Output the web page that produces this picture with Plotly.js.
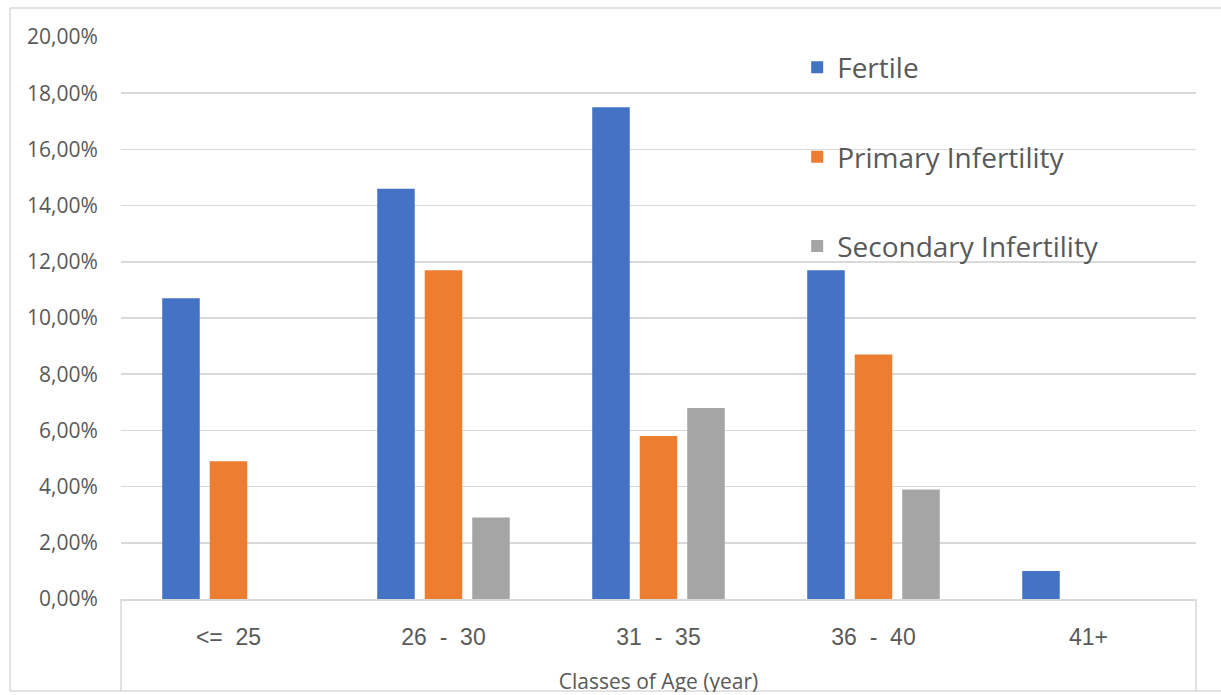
<!DOCTYPE html>
<html>
<head>
<meta charset="utf-8">
<script src="https://cdn.plot.ly/plotly-3.0.1.min.js"></script>
<style>
  html, body { margin: 0; padding: 0; background: #ffffff; }
  #wrap { width: 1221px; height: 692px; overflow: hidden; }
  #chart { width: 1221px; height: 695px; }
</style>
</head>
<body>
<div id="wrap"><div id="chart"></div></div>
<script>
// Data
const categories = ['<= 25', '26 - 30', '31 - 35', '36 - 40', '41+'];
const tickLabels = ['<=\u00a0\u00a025', '26\u00a0\u00a0-\u00a0\u00a030', '31\u00a0\u00a0-\u00a0\u00a035', '36\u00a0\u00a0-\u00a0\u00a040', '41+'];
const seriesNames = ['Fertile', 'Primary Infertility', 'Secondary Infertility'];
const fertile = [10.7, 14.6, 17.5, 11.7, 1.0];
const primaryInfertility = [4.9, 11.7, 5.8, 8.7, 0];
const secondaryInfertility = [0, 2.9, 6.8, 3.9, 0];
const yTicks = [0, 2, 4, 6, 8, 10, 12, 14, 16, 18, 20];
const yTickLabels = ['0,00%', '2,00%', '4,00%', '6,00%', '8,00%', '10,00%', '12,00%', '14,00%', '16,00%', '18,00%', '20,00%'];

const colors = ['#4472C4', '#ED7D31', '#A5A5A5'];
const values = [fertile, primaryInfertility, secondaryInfertility];

const traces = values.map((v, i) => ({
  type: 'bar',
  name: seriesNames[i],
  x: categories,
  y: v,
  legendgroup: 'g' + i,
  marker: { color: colors[i], line: { width: 0 } },
  hoverinfo: 'x+y+name'
}));

const textColor = '#595959';
const lineColor = '#d9d9d9';

const layout = {
  width: 1221,
  height: 695,
  margin: { l: 121, r: 25, t: 37, b: 96 },
  paper_bgcolor: '#ffffff',
  plot_bgcolor: '#ffffff',
  barmode: 'group',
  bargap: 0.337,
  bargroupgap: 0.21,
  showlegend: true,
  legend: {
    x: 0.629, xanchor: 'left',
    y: 0.99, yanchor: 'top',
    bgcolor: 'rgba(0,0,0,0)',
    font: { family: 'Open Sans, Noto Sans, sans-serif', size: 28, color: textColor },
    tracegroupgap: 50,
    traceorder: 'grouped'
  },
  xaxis: {
    type: 'category',
    tickvals: categories,
    ticktext: tickLabels,
    tickfont: { family: 'Liberation Sans, Arial, sans-serif', size: 23, color: textColor },
    ticks: 'outside', ticklen: 17, tickcolor: 'rgba(0,0,0,0)',
    showline: true, linecolor: lineColor, linewidth: 1.5,
    showgrid: false, zeroline: false,
    fixedrange: true,
    title: {
      text: 'Classes of Age (year)',
      font: { family: 'Open Sans, Noto Sans, sans-serif', size: 21, color: textColor },
      standoff: 33
    }
  },
  yaxis: {
    range: [0, 20],
    tickmode: 'array',
    tickvals: yTicks,
    ticktext: yTickLabels,
    tickfont: { family: 'Open Sans, Noto Sans, sans-serif', size: 21, color: textColor },
    ticks: 'outside', ticklen: 18, tickcolor: 'rgba(0,0,0,0)',
    showgrid: true, gridcolor: lineColor, gridwidth: 1.5,
    zeroline: false, showline: false,
    fixedrange: true
  },
  shapes: [
    // outer chart frame (left, top, bottom)
    { type: 'line', xref: 'paper', yref: 'paper', x0: -0.1033, x1: -0.1033, y0: 1.0516, y1: -0.1637, line: { color: lineColor, width: 1.5 } },
    { type: 'line', xref: 'paper', yref: 'paper', x0: -0.1033, x1: 1.03, y0: 1.0516, y1: 1.0516, line: { color: lineColor, width: 1.5 } },
    { type: 'line', xref: 'paper', yref: 'paper', x0: -0.1033, x1: 1.03, y0: -0.1637, y1: -0.1637, line: { color: lineColor, width: 1.5 } },
    // box under the category axis
    { type: 'line', xref: 'paper', yref: 'paper', x0: 0, x1: 0, y0: 0, y1: -0.1637, line: { color: lineColor, width: 1.5 } },
    { type: 'line', xref: 'paper', yref: 'paper', x0: 1, x1: 1, y0: 0, y1: -0.1637, line: { color: lineColor, width: 1.5 } }
  ]
};

Plotly.newPlot('chart', traces, layout, { displayModeBar: false, staticPlot: true });
</script>
</body>
</html>
